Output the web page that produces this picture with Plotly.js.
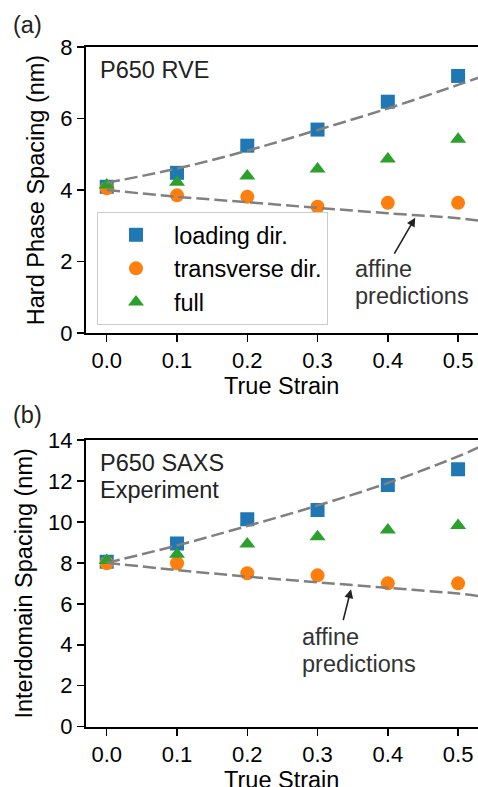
<!DOCTYPE html>
<html>
<head>
<meta charset="utf-8">
<script src="https://cdn.plot.ly/plotly-3.0.1.min.js"></script>
<style>
html,body{margin:0;padding:0;overflow:hidden;background:#fff;}
#chart{width:540px;height:787px;}
</style>
</head>
<body>
<div id="chart"></div>
<script>
// ---- data ----
var strain = [0.0, 0.1, 0.2, 0.3, 0.4, 0.5];
var tickLabels = ['0.0', '0.1', '0.2', '0.3', '0.4', '0.5'];

// (a) P650 RVE – hard phase spacing (nm)
var rveLoading    = [4.09, 4.48, 5.24, 5.69, 6.47, 7.19];
var rveTransverse = [4.05, 3.85, 3.81, 3.53, 3.64, 3.64];
var rveFull       = [4.14, 4.22, 4.39, 4.59, 4.87, 5.42];

// (b) P650 SAXS experiment – interdomain spacing (nm)
var saxsLoading    = [8.06, 8.95, 10.13, 10.58, 11.8, 12.57];
var saxsTransverse = [7.98, 7.98, 7.49, 7.39, 7.0, 7.0];
var saxsFull       = [8.12, 8.42, 8.92, 9.27, 9.6, 9.82];

// affine prediction curves
var affineX          = [0.0, 0.1, 0.2, 0.3, 0.4, 0.5, 0.53];
var rveAffineUp      = [4.2, 4.6, 5.1, 5.68, 6.28, 6.94, 7.15];
var rveAffineDown    = [4.0, 3.81, 3.66, 3.5, 3.35, 3.21, 3.14];
var saxsAffineUp     = [8.0, 8.85, 9.8, 10.8, 11.9, 13.2, 13.65];
var saxsAffineDown   = [8.0, 7.65, 7.33, 7.05, 6.78, 6.5, 6.38];

var seriesNames = ['loading dir.', 'transverse dir.', 'full'];
var xTitle = 'True Strain';

// ---- styling ----
var FONT = 'Liberation Sans, Arial, Helvetica, sans-serif';
var C = ['#1f77b4', '#ff7f0e', '#2ca02c'];
var SYM = ['square', 'circle', 'triangle-up'];
var SIZE = [14, 14, 14];
var TXT = 23.5;

function markers(y, i, xa, ya, legend) {
  return {x: strain, y: y, type: 'scatter', mode: 'markers', name: seriesNames[i],
    xaxis: xa, yaxis: ya, showlegend: legend,
    marker: {color: C[i], symbol: SYM[i], size: SIZE[i], line: {width: 0}}};
}
function affine(y, xa, ya) {
  return {x: affineX, y: y, type: 'scatter', mode: 'lines', xaxis: xa, yaxis: ya,
    showlegend: false, hoverinfo: 'skip',
    line: {color: '#808080', width: 2.5, dash: '13px,5px', shape: 'spline'}};
}

var data = [
  markers(rveLoading, 0, 'x', 'y', true),
  markers(rveTransverse, 1, 'x', 'y', true),
  markers(rveFull, 2, 'x', 'y', true),
  affine(rveAffineUp, 'x', 'y'),
  affine(rveAffineDown, 'x', 'y'),
  markers(saxsLoading, 0, 'x2', 'y2', false),
  markers(saxsTransverse, 1, 'x2', 'y2', false),
  markers(saxsFull, 2, 'x2', 'y2', false),
  affine(saxsAffineUp, 'x2', 'y2'),
  affine(saxsAffineDown, 'x2', 'y2')
];

var H = 787;
function xax(anchor) {
  return {range: [-0.0295, 0.5895], domain: [0, 1], anchor: anchor,
    tickvals: strain, ticktext: tickLabels, ticks: 'outside', ticklen: 7, tickwidth: 1.5,
    tickcolor: '#000', showline: true, linecolor: '#000', linewidth: 2, mirror: true,
    showgrid: false, zeroline: false, automargin: false,
    tickfont: {family: FONT, size: 22, color: '#000'}};
}
function yax(anchor, dom, rng, dtick, title) {
  return {range: rng, domain: dom, anchor: anchor, dtick: dtick, tick0: 0,
    ticks: 'outside', ticklen: 7, tickwidth: 1.5, tickcolor: '#000',
    showline: true, linecolor: '#000', linewidth: 2, mirror: true,
    showgrid: false, zeroline: false, automargin: false,
    tickfont: {family: FONT, size: 22, color: '#000'},
    title: {text: title, font: {family: FONT, size: TXT, color: '#000'}, standoff: 9}};
}

function txt(xr, yr, x, y, t, color, xanchor) {
  return {xref: xr, yref: yr, x: x, y: y, xanchor: xanchor || 'left', yanchor: 'middle',
    text: t, showarrow: false, font: {family: FONT, size: TXT, color: color || '#222'}};
}

var layout = {
  width: 540, height: H,
  margin: {l: 86, r: 19, t: 0, b: 0},
  paper_bgcolor: '#fff', plot_bgcolor: '#fff',
  showlegend: true,
  xaxis: xax('y'),
  yaxis: yax('x', [1 - 333 / H, 1 - 47 / H], [0, 8], 2, 'Hard Phase Spacing (nm)'),
  xaxis2: xax('y2'),
  yaxis2: yax('x2', [1 - 726.7 / H, 1 - 440 / H], [0, 14], 2, 'Interdomain Spacing (nm)'),
  legend: {x: 11 / 435, xanchor: 'left', y: 1 - 212 / H, yanchor: 'top',
    bgcolor: 'rgba(255,255,255,0.8)', bordercolor: '#cccccc', borderwidth: 1,
    itemwidth: 66, font: {family: FONT, size: TXT, color: '#000'}},
  annotations: [
    txt('paper', 'paper', 195.5 / 435, 1 - 385.5 / H, xTitle, '#000', 'center'),
    txt('paper', 'paper', 195.5 / 435, 1 - 779.5 / H, xTitle, '#000', 'center'),
    txt('paper', 'paper', -75 / 435, 1 - 25 / H, '(a)'),
    txt('paper', 'paper', -75 / 435, 1 - 415 / H, '(b)'),
    txt('x', 'y', -0.0124, 7.36, 'P650 RVE'),
    txt('x2', 'y2', -0.0124, 12.88, 'P650 SAXS'),
    txt('x2', 'y2', -0.0124, 11.56, 'Experiment'),
    txt('x', 'y', 0.351, 1.79, 'affine', '#333'),
    txt('x', 'y', 0.351, 1.04, 'predictions', '#333'),
    txt('x2', 'y2', 0.2754, 4.39, 'affine', '#333'),
    txt('x2', 'y2', 0.2754, 3.08, 'predictions', '#333'),
    {xref: 'x', yref: 'y', x: 0.439, y: 3.225, axref: 'x', ayref: 'y', ax: 0.408, ay: 2.18,
     text: '', showarrow: true, arrowhead: 2, arrowsize: 1.1, arrowwidth: 1.6, arrowcolor: '#222',
     standoff: 0, startstandoff: 0},
    {xref: 'x2', yref: 'y2', x: 0.3476, y: 6.71, axref: 'x2', ayref: 'y2', ax: 0.336, ay: 5.13,
     text: '', showarrow: true, arrowhead: 2, arrowsize: 1.1, arrowwidth: 1.6, arrowcolor: '#222',
     standoff: 0, startstandoff: 0}
  ]
};

Plotly.newPlot('chart', data, layout, {staticPlot: true, displayModeBar: false});
</script>
</body>
</html>
